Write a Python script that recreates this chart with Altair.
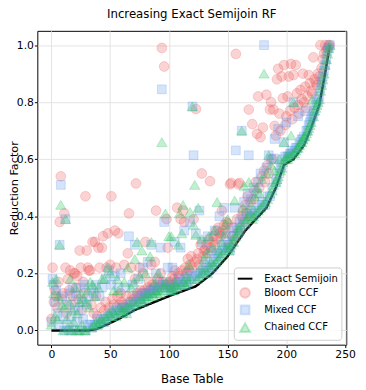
import altair as alt
import pandas as pd

series_names = ["Exact Semijoin", "Bloom CCF", "Mixed CCF", "Chained CCF"]
x_ticks = [0, 50, 100, 150, 200, 250]
y_ticks = [0.0, 0.2, 0.4, 0.6, 0.8, 1.0]

exact = [
    0, 0, 0, 0, 0, 0, 0, 0, 0, 0,
    0, 0, 0, 0, 0, 0, 0, 0, 0, 0,
    0, 0, 0, 0, 0, 0, 0, 0, 0, 0,
    0, 0, 0, 0.001, 0.002, 0.002, 0.003, 0.004, 0.005, 0.006,
    0.008, 0.009, 0.011, 0.013, 0.015, 0.017, 0.019, 0.020, 0.022, 0.024,
    0.026, 0.028, 0.030, 0.032, 0.034, 0.036, 0.038, 0.040, 0.042, 0.044,
    0.047, 0.049, 0.051, 0.053, 0.056, 0.058, 0.060, 0.063, 0.065, 0.067,
    0.070, 0.072, 0.073, 0.075, 0.077, 0.078, 0.080, 0.082, 0.083, 0.085,
    0.087, 0.088, 0.090, 0.092, 0.093, 0.095, 0.097, 0.098, 0.100, 0.102,
    0.103, 0.105, 0.107, 0.108, 0.110, 0.112, 0.113, 0.115, 0.117, 0.118,
    0.120, 0.122, 0.123, 0.125, 0.126, 0.128, 0.129, 0.131, 0.132, 0.134,
    0.135, 0.137, 0.138, 0.140, 0.141, 0.143, 0.144, 0.146, 0.147, 0.149,
    0.150, 0.152, 0.153, 0.155, 0.158, 0.161, 0.165, 0.168, 0.171, 0.174,
    0.177, 0.181, 0.184, 0.187, 0.190, 0.193, 0.197, 0.200, 0.205, 0.209,
    0.214, 0.218, 0.223, 0.228, 0.232, 0.237, 0.242, 0.246, 0.251, 0.255,
    0.260, 0.266, 0.272, 0.278, 0.284, 0.290, 0.296, 0.302, 0.308, 0.314,
    0.320, 0.326, 0.332, 0.338, 0.344, 0.350, 0.354, 0.359, 0.363, 0.368,
    0.372, 0.377, 0.381, 0.386, 0.390, 0.394, 0.399, 0.403, 0.408, 0.412,
    0.417, 0.421, 0.426, 0.430, 0.439, 0.448, 0.456, 0.465, 0.474, 0.483,
    0.491, 0.500, 0.511, 0.523, 0.534, 0.546, 0.557, 0.569, 0.580, 0.583,
    0.585, 0.588, 0.590, 0.593, 0.595, 0.598, 0.600, 0.606, 0.611, 0.617,
    0.622, 0.628, 0.633, 0.639, 0.644, 0.650, 0.660, 0.670, 0.680, 0.690,
    0.700, 0.710, 0.721, 0.733, 0.744, 0.756, 0.767, 0.779, 0.790, 0.812,
    0.835, 0.857, 0.880, 0.903, 0.927, 0.950, 0.975, 1.000,
]

bloom = [
    0.04, 0.22, 0.10, 0.14, 0.12, 0.08, 0.17, 0.38, 0.54, 0.11,
    0.13, 0.41, 0.22, 0.06, 0.18, 0.14, 0.21, 0.09, 0.12, 0.20,
    0.20, 0.15, 0.19, 0.11, 0.28, 0.22, 0.07, 0.17, 0.13, 0.47,
    0.28, 0.22, 0.21, 0.21, 0.09, 0.31, 0.06, 0.31, 0.12, 0.05,
    0.29, 0.22, 0.08, 0.29, 0.33, 0.07, 0.10, 0.22, 0.34, 0.08,
    0.23, 0.47, 0.11, 0.09, 0.35, 0.22, 0.12, 0.34, 0.09, 0.13,
    0.10, 0.09, 0.23, 0.08, 0.12, 0.27, 0.41, 0.10, 0.22, 0.12,
    0.11, 0.18, 0.515, 0.13, 0.12, 0.22, 0.14, 0.13, 0.20, 0.14,
    0.31, 0.13, 0.15, 0.17, 0.14, 0.23, 0.16, 0.15, 0.24, 0.42,
    0.18, 0.15, 0.17, 0.20, 0.99, 0.17, 0.925, 0.16, 0.39, 0.29,
    0.16, 0.17, 0.16, 0.19, 0.18, 0.21, 0.17, 0.43, 0.20, 0.19,
    0.39, 0.21, 0.42, 0.38, 0.22, 0.20, 0.25, 0.21, 0.23, 0.26,
    0.22, 0.39, 0.24, 0.776, 0.25, 0.27, 0.23, 0.30, 0.55, 0.26,
    0.28, 0.284, 0.30, 0.27, 0.32, 0.523, 0.29, 0.31, 0.33, 0.30,
    0.35, 0.32, 0.36, 0.34, 0.33, 0.42, 0.35, 0.37, 0.34, 0.38,
    0.375, 0.30, 0.512, 0.517, 0.33, 0.36, 0.318, 0.969, 0.39, 0.512,
    0.517, 0.35, 0.40, 0.42, 0.38, 0.44, 0.41, 0.47, 0.774, 0.45,
    0.40, 0.723, 0.46, 0.49, 0.52, 0.689, 0.82, 0.50, 0.677, 0.54,
    0.711, 0.56, 0.52, 0.826, 0.58, 0.55, 0.774, 0.80, 0.60, 0.774,
    0.717, 0.683, 0.88, 0.917, 0.76, 0.70, 0.89, 0.814, 0.93, 0.72,
    0.75, 0.82, 0.89, 0.77, 0.934, 0.74, 0.895, 0.78, 0.93, 0.831,
    0.79, 0.76, 0.843, 0.81, 0.90, 0.80, 0.854, 0.78, 0.82, 0.895,
    0.866, 0.84, 0.83, 0.957, 0.88, 0.87, 0.86, 0.90, 0.89, 1.0,
    0.92, 0.95, 0.97, 1.0, 0.98, 0.99, 1.0, 1.0,
]

mixed = [
    0.03, 0.18, 0.16, 0.10, 0.14, 0.06, 0.02, 0.30, 0.51, 0.12,
    0.05, 0.00, 0.39, 0.09, 0.02, 0.00, 0.13, 0.05, 0.15, 0.00,
    0.08, 0.12, 0.03, 0.07, 0.00, 0.15, 0.10, 0.04, 0.16, 0.00,
    0.09, 0.02, 0.12, 0.02, 0.15, 0.01, 0.13, 0.02, 0.16, 0.04,
    0.02, 0.12, 0.03, 0.15, 0.04, 0.03, 0.18, 0.04, 0.05, 0.21,
    0.06, 0.16, 0.05, 0.07, 0.19, 0.06, 0.08, 0.15, 0.07, 0.20,
    0.08, 0.06, 0.08, 0.15, 0.07, 0.09, 0.33, 0.08, 0.10, 0.16,
    0.09, 0.30, 0.10, 0.12, 0.18, 0.11, 0.10, 0.13, 0.22, 0.11,
    0.13, 0.12, 0.24, 0.13, 0.14, 0.30, 0.13, 0.15, 0.14, 0.20,
    0.14, 0.16, 0.15, 0.29, 0.845, 0.16, 0.38, 0.15, 0.17, 0.22,
    0.14, 0.15, 0.14, 0.22, 0.15, 0.31, 0.16, 0.15, 0.18, 0.17,
    0.29, 0.16, 0.17, 0.35, 0.18, 0.16, 0.20, 0.17, 0.38, 0.19,
    0.785, 0.614, 0.18, 0.34, 0.20, 0.19, 0.42, 0.20, 0.31, 0.21,
    0.20, 0.24, 0.22, 0.33, 0.21, 0.23, 0.28, 0.22, 0.25, 0.35,
    0.24, 0.27, 0.26, 0.40, 0.27, 0.30, 0.28, 0.43, 0.29, 0.33,
    0.30, 0.29, 0.28, 0.36, 0.31, 0.33, 0.43, 0.631, 0.35, 0.34,
    0.38, 0.36, 0.70, 0.39, 0.45, 0.37, 0.41, 0.48, 0.614, 0.42,
    0.46, 0.40, 0.50, 0.41, 0.42, 0.48, 0.52, 0.43, 0.55, 0.44,
    0.45, 1.0, 0.44, 0.57, 0.47, 0.614, 0.47, 0.60, 0.50, 0.603,
    0.671, 0.52, 0.53, 0.706, 0.55, 0.57, 0.58, 0.60, 0.66, 0.61,
    0.729, 0.61, 0.61, 0.62, 0.62, 0.63, 0.80, 0.63, 0.64, 0.64,
    0.751, 0.65, 0.66, 0.67, 0.67, 0.68, 0.769, 0.70, 0.70, 0.72,
    0.73, 0.74, 0.75, 0.76, 0.77, 0.79, 0.80, 0.81, 0.82, 0.85,
    0.87, 0.89, 0.91, 0.93, 0.95, 0.98, 0.99, 1.0,
]

chained = [
    0.02, 0.17, 0.13, 0.05, 0.18, 0.04, 0.12, 0.30, 0.44, 0.09,
    0.00, 0.08, 0.39, 0.04, 0.01, 0.10, 0.18, 0.00, 0.07, 0.03,
    0.15, 0.00, 0.06, 0.00, 0.10, 0.13, 0.02, 0.11, 0.00, 0.00,
    0.10, 0.14, 0.08, 0.17, 0.01, 0.16, 0.02, 0.12, 0.03, 0.02,
    0.15, 0.03, 0.04, 0.18, 0.03, 0.18, 0.05, 0.04, 0.22, 0.06,
    0.20, 0.05, 0.07, 0.14, 0.06, 0.05, 0.18, 0.14, 0.08, 0.07,
    0.06, 0.07, 0.17, 0.08, 0.06, 0.22, 0.09, 0.08, 0.15, 0.10,
    0.17, 0.25, 0.09, 0.31, 0.10, 0.19, 0.11, 0.28, 0.10, 0.12,
    0.20, 0.11, 0.13, 0.12, 0.26, 0.31, 0.13, 0.12, 0.17, 0.14,
    0.13, 0.20, 0.14, 0.13, 0.66, 0.16, 0.15, 0.41, 0.17, 0.15,
    0.33, 0.14, 0.33, 0.15, 0.14, 0.17, 0.16, 0.15, 0.30, 0.41,
    0.16, 0.34, 0.44, 0.17, 0.16, 0.19, 0.17, 0.23, 0.415, 0.18,
    0.785, 0.37, 0.51, 0.335, 0.18, 0.43, 0.19, 0.22, 0.32, 0.20,
    0.25, 0.21, 0.27, 0.20, 0.33, 0.22, 0.24, 0.29, 0.23, 0.35,
    0.24, 0.45, 0.25, 0.28, 0.26, 0.31, 0.27, 0.34, 0.37, 0.29,
    0.39, 0.28, 0.29, 0.30, 0.32, 0.31, 0.455, 0.33, 0.34, 0.36,
    0.35, 0.37, 0.70, 0.43, 0.507, 0.38, 0.39, 0.40, 0.52, 0.41,
    0.44, 0.39, 0.40, 0.47, 0.41, 0.50, 0.42, 0.48, 0.43, 0.53,
    0.44, 0.90, 0.45, 0.55, 0.46, 0.614, 0.48, 0.58, 0.49, 0.51,
    0.56, 0.52, 0.53, 0.54, 0.60, 0.56, 0.57, 0.59, 0.66, 0.60,
    0.61, 0.60, 0.62, 0.61, 0.683, 0.62, 0.80, 0.62, 0.63, 0.64,
    0.64, 0.65, 0.66, 0.66, 0.67, 0.68, 0.68, 0.69, 0.70, 0.71,
    0.72, 0.73, 0.809, 0.75, 0.77, 0.78, 0.79, 0.80, 0.81, 0.84,
    0.86, 0.88, 0.90, 0.93, 0.95, 0.97, 0.99, 1.0,
]

base_table = list(range(len(exact)))

line_df = pd.DataFrame({"table": base_table, "rf": exact, "series": "Exact Semijoin"})
pts_df = pd.concat(
    [
        pd.DataFrame({"table": base_table, "rf": vals, "series": name})
        for name, vals in [("Bloom CCF", bloom), ("Mixed CCF", mixed), ("Chained CCF", chained)]
    ],
    ignore_index=True,
)

colors = ["#000000", "rgba(235,90,90,0.26)", "rgba(95,150,240,0.26)", "rgba(40,195,95,0.28)"]

legend = alt.Legend(
    title=None,
    orient="bottom-right",
    offset=5,
    padding=3,
    rowPadding=0,
    labelOffset=11,
    labelFontSize=10.2,
    labelFont="DejaVu Sans",
    labelColor="black",
    strokeColor="#cccccc",
    fillColor="rgba(255,255,255,0.85)",
    cornerRadius=3,
    symbolStrokeWidth=2,
)

x_enc = alt.X(
    "table:Q",
    scale=alt.Scale(domain=[-12, 251], nice=False, zero=False),
    axis=alt.Axis(values=x_ticks, format="d", title="Base Table", titleY=39, titleBaseline="alphabetic"),
)
y_enc = alt.Y(
    "rf:Q",
    scale=alt.Scale(domain=[-0.05, 1.05], nice=False, zero=False),
    axis=alt.Axis(
        values=y_ticks, format=".1f", title="Reduction Factor", titleFontSize=11.5,
        titleX=-20.5, titleY=160.5, titleAngle=270, titleAlign="center", titleBaseline="alphabetic",
    ),
)

line = alt.Chart(line_df).mark_line(strokeWidth=2.5).encode(
    x=x_enc,
    y=y_enc,
    stroke=alt.Stroke("series:N", scale=alt.Scale(domain=series_names, range=colors), legend=legend),
)

points = alt.Chart(pts_df).mark_point(filled=True, strokeWidth=1, opacity=1).encode(
    x=x_enc,
    y=y_enc,
    fill=alt.Fill("series:N", scale=alt.Scale(domain=series_names, range=colors), legend=legend),
    stroke=alt.Stroke("series:N", scale=alt.Scale(domain=series_names, range=colors), legend=legend),
    shape=alt.Shape("series:N", scale=alt.Scale(domain=series_names, range=["stroke", "circle", "square", "triangle-up"]), legend=legend),
    size=alt.Size("series:N", scale=alt.Scale(type="ordinal", domain=series_names, range=[225, 100, 81, 110]), legend=legend),
)

chart = (
    alt.layer(line, points)
    .properties(
        width=316,
        height=321,
        title="Increasing Exact Semijoin RF",
        autosize=alt.AutoSizeParams(type="none"),
        padding={"left": 30, "top": 19, "right": 12, "bottom": 42},
    )
    .configure(font="DejaVu Sans")
    .configure_view(stroke="black", strokeWidth=1)
    .configure_axis(
        grid=True, gridColor="#e3e3e3", gridWidth=1, domain=False, labelFlush=False,
        tickColor="black", tickSize=3, tickWidth=1, labelPadding=1,
        labelColor="black", labelFontSize=11, labelFont="DejaVu Sans",
        titleFontSize=12, titleColor="black", titleFontWeight="normal", titleFont="DejaVu Sans",
    )
    .configure_title(fontSize=12, font="DejaVu Sans", fontWeight="normal", color="black",
                     anchor="middle", baseline="alphabetic", offset=10)
)

chart.save("out.html", embed_options={"renderer": "svg", "actions": False})
